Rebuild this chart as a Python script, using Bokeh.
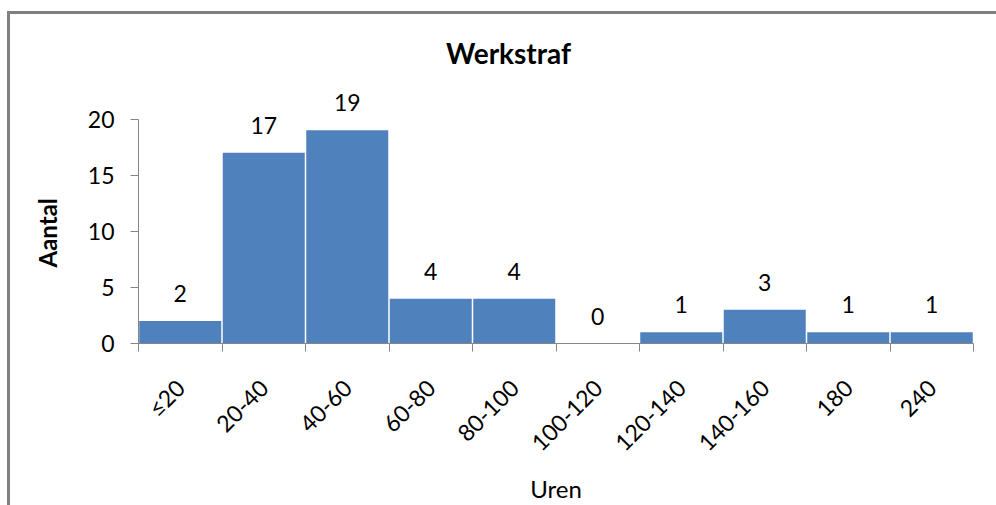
import math
from bokeh.plotting import figure
from bokeh.models import (Range1d, FixedTicker, ColumnDataSource, LabelSet, Label, Title)
from bokeh.core.properties import value
from bokeh.embed import file_html
from bokeh.resources import INLINE

# ---- data ----
categories = ["≤20", "20-40", "40-60", "60-80", "80-100", "100-120",
              "120-140", "140-160", "180", "240"]
counts = [2, 17, 19, 4, 4, 0, 1, 3, 1, 1]
y_ticks = [0, 5, 10, 15, 20]
title_text = "Werkstraf"
x_title = "Uren"
y_title = "Aantal"

FONT = "Lato"
BAR = "#4F81BD"
AXIS = "#868686"
BORDER = "#808080"

W, H = 996, 505
LEFT, RIGHT, BOTTOM = 138, 23, 161
Y_MAX = 20
PX_PER_UNIT = 225 / Y_MAX
frame_h = H - BOTTOM
y_end = frame_h / PX_PER_UNIT

n = len(categories)
centers = [i + 0.5 for i in range(n)]

p = figure(width=W, height=H, output_backend="svg", toolbar_location=None,
           x_range=Range1d(0, n), y_range=Range1d(0, y_end),
           min_border_left=LEFT, min_border_right=RIGHT,
           min_border_top=0, min_border_bottom=BOTTOM)
p.outline_line_color = None
p.xgrid.visible = False
p.ygrid.visible = False
p.background_fill_color = None
p.border_fill_color = None
# chart-area border (left and top edges) drawn behind the transparent canvas
p.styles = {
    "background-color": "white",
    "box-shadow": f"inset 7px 11px 0 0 white, inset 10px 14px 0 0 {BORDER}",
}

src = ColumnDataSource(dict(x=centers, top=counts, lab=[str(c) for c in counts]))
p.vbar(x="x", top="top", bottom=0, width=0.982, source=src,
       fill_color=BAR, line_color=None)

# x axis
xa = p.xaxis[0]
xa.ticker = FixedTicker(ticks=centers, minor_ticks=list(range(n + 1)))
xa.major_label_overrides = {c: lab for c, lab in zip(centers, categories)}
xa.major_label_orientation = math.pi / 4
xa.major_tick_out = 0
xa.major_tick_in = 0
xa.minor_tick_out = 8
xa.minor_tick_in = 0
xa.minor_tick_line_color = AXIS
xa.axis_line_color = AXIS
xa.major_label_standoff = 32
xa.major_label_text_font = FONT
xa.major_label_text_font_size = "23px"
xa.major_label_text_color = "black"
xa.axis_label = x_title
xa.axis_label_text_font = FONT
xa.axis_label_text_font_style = "normal"
xa.axis_label_text_font_size = "24px"
xa.axis_label_text_color = "black"
xa.axis_label_standoff = 5

# y axis
ya = p.yaxis[0]
ya.ticker = FixedTicker(ticks=y_ticks)
ya.bounds = (0, Y_MAX)
ya.major_tick_out = 8
ya.major_tick_in = 0
ya.minor_tick_out = 0
ya.minor_tick_in = 0
ya.major_tick_line_color = AXIS
ya.axis_line_color = AXIS
ya.major_label_standoff = 16
ya.major_label_text_font = FONT
ya.major_label_text_font_size = "23px"
ya.major_label_text_color = "black"

# y axis title, centred on the 0..20 span of the axis
p.add_layout(Title(text=y_title, align="left", offset=76, standoff=46,
                   text_font=FONT, text_font_style="bold", text_font_size="24px",
                   text_color="black"), "left")

# data labels
p.add_layout(LabelSet(x="x", y="top", text="lab", source=src, y_offset=19,
                      text_align="center", text_baseline="alphabetic",
                      text_font=value(FONT), text_font_size=value("23px"),
                      text_color="black"))

# chart title
p.add_layout(Label(x=370, y=frame_h - 53, x_units="screen", y_units="screen",
                   text=title_text, text_align="center", text_baseline="middle",
                   text_font=FONT, text_font_style="bold", text_font_size="28px",
                   text_color="black"))

open("out.html", "w").write(file_html(p, INLINE))
